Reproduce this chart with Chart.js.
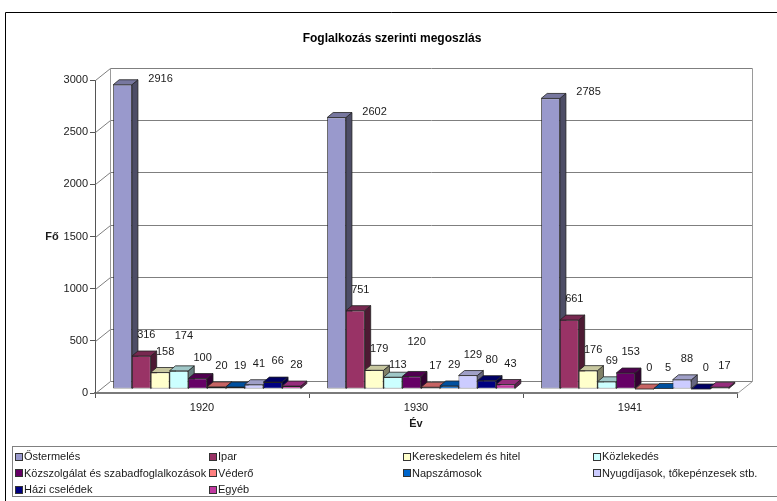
<!DOCTYPE html>
<html><head><meta charset="utf-8">
<script src="https://cdn.jsdelivr.net/npm/chart.js@4.4.0/dist/chart.umd.min.js"></script>
<style>
html,body{margin:0;padding:0;background:#fff;overflow:hidden;}
#wrap{position:relative;width:777px;height:501px;overflow:hidden;}
#c{position:absolute;left:0;top:0;}
#legend{position:absolute;left:12px;top:446px;width:800px;height:51px;border:1px solid #808080;border-right:none;box-sizing:border-box;font:11px "Liberation Sans",Arial,sans-serif;color:#1a1a1a;}
.li{position:absolute;white-space:nowrap;height:13px;line-height:13px;display:flex;align-items:center;}
.sw{display:inline-block;width:6px;height:6px;border:1px solid #333;margin-right:1px;}
</style></head>
<body><div id="wrap"><canvas id="c" width="777" height="501"></canvas><div id="legend"></div></div>
<script>
const chartTitle = 'Foglalkozás szerinti megoszlás';
const xTitle = 'Év';
const yTitle = 'Fő';
const categories = ['1920', '1930', '1941'];
const seriesNames = ['Őstermelés', 'Ipar', 'Kereskedelem és hitel', 'Közlekedés',
  'Közszolgálat és szabadfoglalkozások', 'Véderő', 'Napszámosok',
  'Nyugdíjasok, tőkepénzesek stb.', 'Házi cselédek', 'Egyéb'];
const ostermeles   = [2916, 2602, 2785];
const ipar         = [316, 751, 661];
const kereskedelem = [158, 179, 176];
const kozlekedes   = [174, 113, 69];
const kozszolgalat = [100, 120, 153];
const vedero       = [20, 17, 0];
const napszamosok  = [19, 29, 5];
const nyugdijasok  = [41, 129, 88];
const haziCseledek = [66, 80, 0];
const egyeb        = [28, 43, 17];
const yTickMin = 0, yTickMax = 3000, yTickStep = 500;

const seriesValues = [ostermeles, ipar, kereskedelem, kozlekedes, kozszolgalat,
  vedero, napszamosok, nyugdijasok, haziCseledek, egyeb];
const seriesColors = ['#9999CC', '#993366', '#FFFFCC', '#CCFFFF', '#660066',
  '#FF8080', '#0066CC', '#CCCCFF', '#000080', '#C0399F'];

const FONT = '"Liberation Sans", Arial, sans-serif';
Chart.defaults.font.family = FONT;
Chart.defaults.font.size = 11;
Chart.defaults.color = '#1a1a1a';

// 3D projection offsets (style)
const D = {wx: 15, wy: 12, bx: 5, by: 4, dx: 6, dy: 5};

function shade(hex, f) {
  const n = parseInt(hex.slice(1), 16);
  const r = Math.round(((n >> 16) & 255) * f), g = Math.round(((n >> 8) & 255) * f), b = Math.round((n & 255) * f);
  return 'rgb(' + r + ',' + g + ',' + b + ')';
}
function poly(ctx, pts, fill) {
  ctx.beginPath();
  ctx.moveTo(pts[0][0], pts[0][1]);
  for (let i = 1; i < pts.length; i++) ctx.lineTo(pts[i][0], pts[i][1]);
  ctx.closePath();
  ctx.fillStyle = fill; ctx.fill();
  ctx.stroke();
}
function line(ctx, x1, y1, x2, y2) {
  ctx.beginPath(); ctx.moveTo(x1, y1); ctx.lineTo(x2, y2); ctx.stroke();
}

const plugin3d = {
  id: 'threeD',
  beforeDraw(chart) {
    const ctx = chart.ctx;
    ctx.save();
    ctx.strokeStyle = '#000'; ctx.lineWidth = 1;
    ctx.beginPath(); ctx.moveTo(5.5, chart.height); ctx.lineTo(5.5, 12.5); ctx.lineTo(chart.width, 12.5); ctx.stroke();
    const a = chart.chartArea;
    ctx.fillStyle = '#1a1a1a';
    ctx.font = 'bold 11px ' + FONT;
    ctx.textAlign = 'center'; ctx.textBaseline = 'middle';
    ctx.fillText(yTitle, a.left - 43, (a.top + a.bottom) / 2);
    ctx.restore();
  },
  beforeDatasetsDraw(chart) {
    const ctx = chart.ctx, a = chart.chartArea, ys = chart.scales.y;
    const L = Math.round(a.left) + 0.5, R = Math.round(a.right) + 0.5, B = Math.round(a.bottom) + 0.5;
    ctx.save();
    ctx.lineWidth = 1;
    ctx.strokeStyle = '#7f7f7f';
    ys.ticks.forEach(t => {
      const py = Math.round(ys.getPixelForValue(t.value)) + 0.5;
      line(ctx, L + D.wx, py - D.wy, R + D.wx, py - D.wy);
      line(ctx, L, py, L + D.wx, py - D.wy);
    });
    const T = Math.round(ys.getPixelForValue(yTickMax)) + 0.5;
    ctx.strokeStyle = '#9a9a9a';
    line(ctx, L + D.wx, T - D.wy, L + D.wx, B - D.wy);
    line(ctx, R + D.wx, T - D.wy, R + D.wx, B - D.wy);
    line(ctx, R, B, R + D.wx, B - D.wy);
    ctx.restore();

    ctx.save();
    ctx.translate(D.bx, -D.by);
    ctx.lineWidth = 0.8;
    ctx.strokeStyle = '#222';
    const metas = chart.getSortedVisibleDatasetMetas().slice().sort((m1, m2) => m1.index - m2.index);
    const faces = [];
    for (let c = 0; c < categories.length; c++) {
      metas.forEach(m => {
        const p = m.data[c].getProps(['x', 'y', 'base', 'width'], true);
        faces.push({p, color: seriesColors[m.index]});
      });
    }
    faces.forEach(({p, color}) => {
      const r = p.x + p.width / 2;
      poly(ctx, [[r, p.y], [r + D.dx, p.y - D.dy], [r + D.dx, p.base - D.dy], [r, p.base]], shade(color, 0.5));
    });
    faces.forEach(({p, color}) => {
      const l = p.x - p.width / 2, r = p.x + p.width / 2;
      poly(ctx, [[l, p.y], [r, p.y], [r + D.dx, p.y - D.dy], [l + D.dx, p.y - D.dy]], shade(color, 0.78));
    });
    // translation kept for the front faces drawn by Chart.js
  },
  afterDatasetsDraw(chart) {
    const ctx = chart.ctx;
    ctx.restore();
    ctx.save();
    ctx.fillStyle = '#1a1a1a';
    ctx.font = '11px ' + FONT;
    ctx.textAlign = 'center'; ctx.textBaseline = 'middle';
    const metas = chart.getSortedVisibleDatasetMetas().slice().sort((m1, m2) => m1.index - m2.index);
    const h = 12, gap = 3;
    for (let c = 0; c < categories.length; c++) {
      const placed = [];
      metas.forEach(m => {
        const p = m.data[c].getProps(['x', 'y'], true);
        const txt = String(chart.data.datasets[m.index].data[c]);
        const w = ctx.measureText(txt).width;
        let lx, ly;
        if (m.index === 0) { lx = p.x + 43; ly = p.y - 10; }
        else {
          const top = p.y - D.by;
          lx = p.x + D.bx + D.dx / 2 + 2;
          const base = top - 21;
          const cands = [base, top - 12, base - 14, base - 28, base - 42];
          const free = y => placed.every(q => !(Math.abs(q.x - lx) < (q.w + w) / 2 + gap && Math.abs(q.y - y) < h));
          ly = cands.find(free);
          if (ly === undefined) ly = base;
        }
        placed.push({x: lx, y: ly, w});
        ctx.fillText(txt, lx, ly);
      });
    }
    ctx.restore();
  }
};

const chart = new Chart(document.getElementById('c'), {
  type: 'bar',
  data: {
    labels: categories,
    datasets: seriesNames.map((name, i) => ({
      label: name,
      data: seriesValues[i],
      backgroundColor: seriesColors[i],
      borderColor: '#222',
      borderWidth: 0.8,
      borderSkipped: false,
      categoryPercentage: 0.877,
      barPercentage: 1.0,
      clip: false
    }))
  },
  options: {
    responsive: false,
    animation: false,
    devicePixelRatio: 1,
    layout: {padding: {left: 47, right: 40, top: 0, bottom: 68}},
    plugins: {
      legend: {display: false},
      tooltip: {enabled: false},
      title: {display: true, text: chartTitle, color: '#000',
        font: {size: 12, weight: 'bold'}, padding: {top: 31, bottom: 34.6}}
    },
    scales: {
      x: {
        ticks: {padding: 3, color: '#1a1a1a'},
        grid: {drawOnChartArea: false, drawTicks: true, tickLength: 5, color: '#555', offset: true},
        border: {display: true, color: '#7a7a7a', width: 2},
        title: {display: true, text: xTitle, color: '#1a1a1a', font: {size: 11, weight: 'bold'}, padding: {top: 0, bottom: 2}},
        afterFit(s) { s.height = 40; }
      },
      y: {
        min: yTickMin, max: yTickMax,
        ticks: {stepSize: yTickStep, padding: 2, color: '#1a1a1a', callback: v => String(v)},
        grid: {drawOnChartArea: false, drawTicks: true, tickLength: 5, color: '#555'},
        border: {display: true, color: '#555', width: 1},
        afterFit(s) { s.width = 48; }
      }
    }
  },
  plugins: [plugin3d]
});

const legendEl = document.getElementById('legend');
const colX = [2, 196, 390, 580];
chart.data.datasets.forEach((ds, i) => {
  const item = document.createElement('div');
  item.className = 'li';
  item.style.left = colX[i % 4] + 'px';
  item.style.top = (3 + Math.floor(i / 4) * 16.5) + 'px';
  const sw = document.createElement('span');
  sw.className = 'sw';
  sw.style.background = ds.backgroundColor;
  const tx = document.createElement('span');
  tx.textContent = ds.label;
  item.appendChild(sw); item.appendChild(tx);
  legendEl.appendChild(item);
});
</script>
</body></html>
